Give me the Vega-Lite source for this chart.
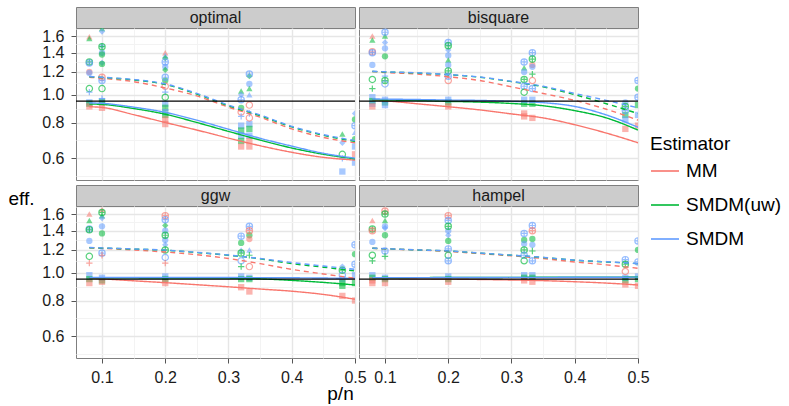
{
"$schema": "https://vega.github.io/schema/vega-lite/v6.json",
"background": "white",
"padding": {"left": 7, "top": 6, "right": 5, "bottom": 2},
"config": {
  "font": "Liberation Sans",
  "view": {"stroke": "#7f7f7f", "strokeWidth": 1},
  "axis": {"gridColor": "#e6e6e6", "gridWidth": 1.4, "labelFontSize": 16, "labelColor": "#1a1a1a", "tickColor": "#555555", "tickSize": 5, "tickWidth": 1, "domain": false, "titleFontSize": 19, "titleFontWeight": "normal", "titleColor": "#000000", "labelFlush": false, "labelOverlap": false},
  "axisX": {"labelPadding": 6},
  "axisY": {"labelPadding": 7},
  "legend": {"padding": 0, "titleFontSize": 19, "titleFontWeight": "normal", "titleColor": "#000000", "labelFontSize": 19, "labelColor": "#000000", "symbolType": "stroke", "symbolSize": 784, "symbolStrokeWidth": 1.6, "labelOffset": 6, "rowPadding": 9, "titlePadding": 2, "symbolOpacity": 1}
},
"datasets": {
"pts": [
{"f":"optimal","x":0.08,"y":1.59,"e":"MM","s":"triangle"},
{"f":"optimal","x":0.08,"y":1.57,"e":"SMDM(uw)","s":"triangle"},
{"f":"optimal","x":0.08,"y":1.3,"e":"SMDM(uw)","s":"cplus"},
{"f":"optimal","x":0.08,"y":1.29,"e":"SMDM","s":"cplus"},
{"f":"optimal","x":0.08,"y":1.2,"e":"MM","s":"circle"},
{"f":"optimal","x":0.08,"y":1.19,"e":"SMDM","s":"circle"},
{"f":"optimal","x":0.08,"y":1.05,"e":"SMDM(uw)","s":"ocircle"},
{"f":"optimal","x":0.08,"y":1.02,"e":"SMDM","s":"plus"},
{"f":"optimal","x":0.08,"y":0.94,"e":"SMDM","s":"square"},
{"f":"optimal","x":0.08,"y":0.93,"e":"SMDM(uw)","s":"square"},
{"f":"optimal","x":0.08,"y":0.91,"e":"MM","s":"square"},
{"f":"optimal","x":0.1,"y":1.7,"e":"SMDM(uw)","s":"triangle"},
{"f":"optimal","x":0.1,"y":1.66,"e":"SMDM","s":"diamond"},
{"f":"optimal","x":0.1,"y":1.48,"e":"SMDM","s":"diamond"},
{"f":"optimal","x":0.1,"y":1.47,"e":"SMDM(uw)","s":"cplus"},
{"f":"optimal","x":0.1,"y":1.4,"e":"SMDM","s":"circle"},
{"f":"optimal","x":0.1,"y":1.38,"e":"SMDM(uw)","s":"circle"},
{"f":"optimal","x":0.1,"y":1.29,"e":"SMDM","s":"diamond"},
{"f":"optimal","x":0.1,"y":1.28,"e":"SMDM(uw)","s":"circle"},
{"f":"optimal","x":0.1,"y":1.15,"e":"MM","s":"cplus"},
{"f":"optimal","x":0.1,"y":1.12,"e":"SMDM","s":"cplus"},
{"f":"optimal","x":0.1,"y":1.05,"e":"SMDM(uw)","s":"ocircle"},
{"f":"optimal","x":0.1,"y":0.97,"e":"SMDM","s":"plus"},
{"f":"optimal","x":0.1,"y":0.95,"e":"SMDM","s":"square"},
{"f":"optimal","x":0.1,"y":0.94,"e":"SMDM(uw)","s":"square"},
{"f":"optimal","x":0.1,"y":0.9,"e":"MM","s":"square"},
{"f":"optimal","x":0.2,"y":1.4,"e":"MM","s":"triangle"},
{"f":"optimal","x":0.2,"y":1.37,"e":"SMDM","s":"triangle"},
{"f":"optimal","x":0.2,"y":1.34,"e":"SMDM(uw)","s":"diamond"},
{"f":"optimal","x":0.2,"y":1.3,"e":"SMDM","s":"cplus"},
{"f":"optimal","x":0.2,"y":1.25,"e":"SMDM","s":"circle"},
{"f":"optimal","x":0.2,"y":1.22,"e":"SMDM(uw)","s":"diamond"},
{"f":"optimal","x":0.2,"y":1.15,"e":"SMDM","s":"cplus"},
{"f":"optimal","x":0.2,"y":1.12,"e":"SMDM(uw)","s":"circle"},
{"f":"optimal","x":0.2,"y":1.07,"e":"MM","s":"ocircle"},
{"f":"optimal","x":0.2,"y":1.02,"e":"SMDM","s":"plus"},
{"f":"optimal","x":0.2,"y":0.98,"e":"SMDM(uw)","s":"ocircle"},
{"f":"optimal","x":0.2,"y":0.93,"e":"SMDM","s":"square"},
{"f":"optimal","x":0.2,"y":0.9,"e":"SMDM(uw)","s":"square"},
{"f":"optimal","x":0.2,"y":0.87,"e":"SMDM","s":"square"},
{"f":"optimal","x":0.2,"y":0.85,"e":"SMDM(uw)","s":"square"},
{"f":"optimal","x":0.2,"y":0.82,"e":"MM","s":"square"},
{"f":"optimal","x":0.2,"y":0.79,"e":"MM","s":"square"},
{"f":"optimal","x":0.32,"y":1.03,"e":"SMDM(uw)","s":"triangle"},
{"f":"optimal","x":0.32,"y":1.0,"e":"SMDM","s":"diamond"},
{"f":"optimal","x":0.32,"y":0.96,"e":"SMDM","s":"cplus"},
{"f":"optimal","x":0.32,"y":0.9,"e":"SMDM(uw)","s":"circle"},
{"f":"optimal","x":0.32,"y":0.87,"e":"MM","s":"ocircle"},
{"f":"optimal","x":0.32,"y":0.84,"e":"SMDM","s":"plus"},
{"f":"optimal","x":0.32,"y":0.78,"e":"SMDM","s":"square"},
{"f":"optimal","x":0.32,"y":0.75,"e":"SMDM(uw)","s":"square"},
{"f":"optimal","x":0.32,"y":0.72,"e":"SMDM","s":"square"},
{"f":"optimal","x":0.32,"y":0.69,"e":"SMDM(uw)","s":"square"},
{"f":"optimal","x":0.32,"y":0.66,"e":"MM","s":"square"},
{"f":"optimal","x":0.333,"y":1.18,"e":"SMDM","s":"cplus"},
{"f":"optimal","x":0.333,"y":1.16,"e":"SMDM(uw)","s":"diamond"},
{"f":"optimal","x":0.333,"y":1.09,"e":"SMDM","s":"circle"},
{"f":"optimal","x":0.333,"y":1.05,"e":"SMDM(uw)","s":"triangle"},
{"f":"optimal","x":0.333,"y":1.0,"e":"SMDM","s":"triangle"},
{"f":"optimal","x":0.333,"y":0.92,"e":"MM","s":"ocircle"},
{"f":"optimal","x":0.333,"y":0.86,"e":"SMDM","s":"plus"},
{"f":"optimal","x":0.333,"y":0.83,"e":"MM","s":"ocircle"},
{"f":"optimal","x":0.333,"y":0.79,"e":"SMDM","s":"square"},
{"f":"optimal","x":0.333,"y":0.76,"e":"SMDM(uw)","s":"square"},
{"f":"optimal","x":0.333,"y":0.72,"e":"SMDM","s":"square"},
{"f":"optimal","x":0.333,"y":0.69,"e":"MM","s":"square"},
{"f":"optimal","x":0.333,"y":0.66,"e":"MM","s":"square"},
{"f":"optimal","x":0.48,"y":0.73,"e":"SMDM(uw)","s":"triangle"},
{"f":"optimal","x":0.48,"y":0.68,"e":"SMDM","s":"diamond"},
{"f":"optimal","x":0.48,"y":0.62,"e":"SMDM(uw)","s":"ocircle"},
{"f":"optimal","x":0.48,"y":0.6,"e":"SMDM","s":"plus"},
{"f":"optimal","x":0.48,"y":0.54,"e":"SMDM","s":"square"},
{"f":"optimal","x":0.5,"y":0.86,"e":"SMDM","s":"diamond"},
{"f":"optimal","x":0.5,"y":0.82,"e":"SMDM(uw)","s":"circle"},
{"f":"optimal","x":0.5,"y":0.78,"e":"SMDM","s":"cplus"},
{"f":"optimal","x":0.5,"y":0.74,"e":"SMDM","s":"triangle"},
{"f":"optimal","x":0.5,"y":0.7,"e":"SMDM(uw)","s":"circle"},
{"f":"optimal","x":0.5,"y":0.66,"e":"SMDM","s":"square"},
{"f":"optimal","x":0.5,"y":0.62,"e":"MM","s":"square"},
{"f":"optimal","x":0.5,"y":0.58,"e":"SMDM","s":"square"},
{"f":"bisquare","x":0.08,"y":1.6,"e":"MM","s":"triangle"},
{"f":"bisquare","x":0.08,"y":1.55,"e":"SMDM(uw)","s":"triangle"},
{"f":"bisquare","x":0.08,"y":1.41,"e":"MM","s":"cplus"},
{"f":"bisquare","x":0.08,"y":1.4,"e":"SMDM","s":"cplus"},
{"f":"bisquare","x":0.08,"y":1.27,"e":"SMDM","s":"circle"},
{"f":"bisquare","x":0.08,"y":1.13,"e":"SMDM(uw)","s":"ocircle"},
{"f":"bisquare","x":0.08,"y":1.05,"e":"SMDM(uw)","s":"plus"},
{"f":"bisquare","x":0.08,"y":0.98,"e":"SMDM","s":"square"},
{"f":"bisquare","x":0.08,"y":0.95,"e":"SMDM(uw)","s":"square"},
{"f":"bisquare","x":0.08,"y":0.93,"e":"SMDM","s":"square"},
{"f":"bisquare","x":0.08,"y":0.91,"e":"MM","s":"square"},
{"f":"bisquare","x":0.1,"y":1.65,"e":"SMDM","s":"cplus"},
{"f":"bisquare","x":0.1,"y":1.6,"e":"SMDM(uw)","s":"triangle"},
{"f":"bisquare","x":0.1,"y":1.52,"e":"SMDM","s":"diamond"},
{"f":"bisquare","x":0.1,"y":1.45,"e":"SMDM","s":"circle"},
{"f":"bisquare","x":0.1,"y":1.36,"e":"SMDM(uw)","s":"circle"},
{"f":"bisquare","x":0.1,"y":1.16,"e":"SMDM","s":"plus"},
{"f":"bisquare","x":0.1,"y":1.12,"e":"SMDM(uw)","s":"cplus"},
{"f":"bisquare","x":0.1,"y":1.09,"e":"SMDM","s":"ocircle"},
{"f":"bisquare","x":0.1,"y":0.96,"e":"SMDM","s":"square"},
{"f":"bisquare","x":0.1,"y":0.94,"e":"SMDM(uw)","s":"square"},
{"f":"bisquare","x":0.1,"y":0.92,"e":"SMDM","s":"square"},
{"f":"bisquare","x":0.2,"y":1.52,"e":"SMDM","s":"cplus"},
{"f":"bisquare","x":0.2,"y":1.48,"e":"SMDM(uw)","s":"cplus"},
{"f":"bisquare","x":0.2,"y":1.43,"e":"SMDM","s":"diamond"},
{"f":"bisquare","x":0.2,"y":1.37,"e":"SMDM","s":"circle"},
{"f":"bisquare","x":0.2,"y":1.32,"e":"SMDM(uw)","s":"triangle"},
{"f":"bisquare","x":0.2,"y":1.27,"e":"SMDM","s":"circle"},
{"f":"bisquare","x":0.2,"y":1.21,"e":"SMDM(uw)","s":"cplus"},
{"f":"bisquare","x":0.2,"y":1.16,"e":"SMDM","s":"cplus"},
{"f":"bisquare","x":0.2,"y":1.12,"e":"MM","s":"ocircle"},
{"f":"bisquare","x":0.2,"y":0.96,"e":"SMDM","s":"square"},
{"f":"bisquare","x":0.2,"y":0.94,"e":"SMDM(uw)","s":"square"},
{"f":"bisquare","x":0.2,"y":0.91,"e":"MM","s":"square"},
{"f":"bisquare","x":0.32,"y":1.3,"e":"SMDM","s":"cplus"},
{"f":"bisquare","x":0.32,"y":1.24,"e":"SMDM(uw)","s":"triangle"},
{"f":"bisquare","x":0.32,"y":1.2,"e":"SMDM","s":"circle"},
{"f":"bisquare","x":0.32,"y":1.13,"e":"SMDM(uw)","s":"cplus"},
{"f":"bisquare","x":0.32,"y":1.07,"e":"SMDM","s":"cplus"},
{"f":"bisquare","x":0.32,"y":1.02,"e":"SMDM(uw)","s":"ocircle"},
{"f":"bisquare","x":0.32,"y":0.96,"e":"SMDM","s":"square"},
{"f":"bisquare","x":0.32,"y":0.93,"e":"SMDM(uw)","s":"square"},
{"f":"bisquare","x":0.32,"y":0.86,"e":"MM","s":"square"},
{"f":"bisquare","x":0.32,"y":0.84,"e":"MM","s":"square"},
{"f":"bisquare","x":0.333,"y":1.4,"e":"SMDM","s":"cplus"},
{"f":"bisquare","x":0.333,"y":1.33,"e":"SMDM(uw)","s":"cplus"},
{"f":"bisquare","x":0.333,"y":1.27,"e":"MM","s":"circle"},
{"f":"bisquare","x":0.333,"y":1.25,"e":"SMDM","s":"circle"},
{"f":"bisquare","x":0.333,"y":1.18,"e":"SMDM(uw)","s":"plus"},
{"f":"bisquare","x":0.333,"y":1.12,"e":"MM","s":"ocircle"},
{"f":"bisquare","x":0.333,"y":1.05,"e":"SMDM","s":"cplus"},
{"f":"bisquare","x":0.333,"y":0.96,"e":"SMDM","s":"square"},
{"f":"bisquare","x":0.333,"y":0.93,"e":"SMDM(uw)","s":"square"},
{"f":"bisquare","x":0.333,"y":0.83,"e":"MM","s":"square"},
{"f":"bisquare","x":0.48,"y":0.94,"e":"SMDM","s":"circle"},
{"f":"bisquare","x":0.48,"y":0.91,"e":"SMDM(uw)","s":"cplus"},
{"f":"bisquare","x":0.48,"y":0.88,"e":"SMDM","s":"cplus"},
{"f":"bisquare","x":0.48,"y":0.85,"e":"SMDM(uw)","s":"square"},
{"f":"bisquare","x":0.48,"y":0.82,"e":"SMDM","s":"square"},
{"f":"bisquare","x":0.48,"y":0.76,"e":"MM","s":"square"},
{"f":"bisquare","x":0.5,"y":1.12,"e":"SMDM","s":"cplus"},
{"f":"bisquare","x":0.5,"y":1.05,"e":"SMDM(uw)","s":"circle"},
{"f":"bisquare","x":0.5,"y":0.98,"e":"SMDM","s":"cplus"},
{"f":"bisquare","x":0.5,"y":0.92,"e":"SMDM(uw)","s":"square"},
{"f":"bisquare","x":0.5,"y":0.85,"e":"SMDM","s":"square"},
{"f":"bisquare","x":0.5,"y":0.78,"e":"MM","s":"square"},
{"f":"ggw","x":0.08,"y":1.6,"e":"MM","s":"triangle"},
{"f":"ggw","x":0.08,"y":1.52,"e":"SMDM(uw)","s":"triangle"},
{"f":"ggw","x":0.08,"y":1.42,"e":"SMDM","s":"cplus"},
{"f":"ggw","x":0.08,"y":1.41,"e":"SMDM(uw)","s":"cplus"},
{"f":"ggw","x":0.08,"y":1.29,"e":"SMDM","s":"circle"},
{"f":"ggw","x":0.08,"y":1.14,"e":"SMDM(uw)","s":"ocircle"},
{"f":"ggw","x":0.08,"y":1.08,"e":"MM","s":"plus"},
{"f":"ggw","x":0.08,"y":0.98,"e":"SMDM","s":"square"},
{"f":"ggw","x":0.08,"y":0.95,"e":"SMDM(uw)","s":"square"},
{"f":"ggw","x":0.08,"y":0.92,"e":"MM","s":"square"},
{"f":"ggw","x":0.1,"y":1.66,"e":"MM","s":"triangle"},
{"f":"ggw","x":0.1,"y":1.62,"e":"SMDM(uw)","s":"cplus"},
{"f":"ggw","x":0.1,"y":1.58,"e":"SMDM(uw)","s":"triangle"},
{"f":"ggw","x":0.1,"y":1.55,"e":"SMDM","s":"diamond"},
{"f":"ggw","x":0.1,"y":1.45,"e":"SMDM","s":"circle"},
{"f":"ggw","x":0.1,"y":1.37,"e":"SMDM(uw)","s":"circle"},
{"f":"ggw","x":0.1,"y":1.17,"e":"SMDM","s":"cplus"},
{"f":"ggw","x":0.1,"y":1.15,"e":"MM","s":"plus"},
{"f":"ggw","x":0.1,"y":0.96,"e":"SMDM","s":"square"},
{"f":"ggw","x":0.1,"y":0.94,"e":"SMDM(uw)","s":"square"},
{"f":"ggw","x":0.1,"y":0.93,"e":"MM","s":"square"},
{"f":"ggw","x":0.2,"y":1.58,"e":"MM","s":"cplus"},
{"f":"ggw","x":0.2,"y":1.53,"e":"SMDM","s":"cplus"},
{"f":"ggw","x":0.2,"y":1.46,"e":"SMDM(uw)","s":"diamond"},
{"f":"ggw","x":0.2,"y":1.4,"e":"SMDM","s":"circle"},
{"f":"ggw","x":0.2,"y":1.35,"e":"SMDM(uw)","s":"cplus"},
{"f":"ggw","x":0.2,"y":1.3,"e":"SMDM","s":"circle"},
{"f":"ggw","x":0.2,"y":1.25,"e":"SMDM","s":"diamond"},
{"f":"ggw","x":0.2,"y":1.2,"e":"SMDM(uw)","s":"cplus"},
{"f":"ggw","x":0.2,"y":1.13,"e":"SMDM","s":"ocircle"},
{"f":"ggw","x":0.2,"y":1.08,"e":"MM","s":"plus"},
{"f":"ggw","x":0.2,"y":0.97,"e":"SMDM","s":"square"},
{"f":"ggw","x":0.2,"y":0.95,"e":"SMDM(uw)","s":"square"},
{"f":"ggw","x":0.2,"y":0.92,"e":"MM","s":"square"},
{"f":"ggw","x":0.32,"y":1.34,"e":"SMDM","s":"cplus"},
{"f":"ggw","x":0.32,"y":1.27,"e":"SMDM(uw)","s":"circle"},
{"f":"ggw","x":0.32,"y":1.2,"e":"SMDM","s":"triangle"},
{"f":"ggw","x":0.32,"y":1.17,"e":"SMDM(uw)","s":"cplus"},
{"f":"ggw","x":0.32,"y":1.1,"e":"SMDM","s":"ocircle"},
{"f":"ggw","x":0.32,"y":1.05,"e":"SMDM(uw)","s":"plus"},
{"f":"ggw","x":0.32,"y":0.97,"e":"SMDM","s":"square"},
{"f":"ggw","x":0.32,"y":0.95,"e":"SMDM(uw)","s":"square"},
{"f":"ggw","x":0.32,"y":0.89,"e":"MM","s":"square"},
{"f":"ggw","x":0.333,"y":1.45,"e":"SMDM","s":"cplus"},
{"f":"ggw","x":0.333,"y":1.4,"e":"MM","s":"cplus"},
{"f":"ggw","x":0.333,"y":1.35,"e":"SMDM(uw)","s":"circle"},
{"f":"ggw","x":0.333,"y":1.31,"e":"MM","s":"circle"},
{"f":"ggw","x":0.333,"y":1.2,"e":"SMDM","s":"triangle"},
{"f":"ggw","x":0.333,"y":1.15,"e":"SMDM(uw)","s":"plus"},
{"f":"ggw","x":0.333,"y":1.05,"e":"MM","s":"ocircle"},
{"f":"ggw","x":0.333,"y":0.96,"e":"SMDM","s":"square"},
{"f":"ggw","x":0.333,"y":0.95,"e":"SMDM(uw)","s":"square"},
{"f":"ggw","x":0.333,"y":0.86,"e":"MM","s":"square"},
{"f":"ggw","x":0.48,"y":1.05,"e":"SMDM","s":"diamond"},
{"f":"ggw","x":0.48,"y":1.02,"e":"SMDM(uw)","s":"cplus"},
{"f":"ggw","x":0.48,"y":0.98,"e":"SMDM","s":"ocircle"},
{"f":"ggw","x":0.48,"y":0.95,"e":"SMDM","s":"square"},
{"f":"ggw","x":0.48,"y":0.92,"e":"SMDM(uw)","s":"square"},
{"f":"ggw","x":0.48,"y":0.9,"e":"SMDM(uw)","s":"square"},
{"f":"ggw","x":0.48,"y":0.83,"e":"MM","s":"square"},
{"f":"ggw","x":0.5,"y":1.25,"e":"SMDM","s":"cplus"},
{"f":"ggw","x":0.5,"y":1.16,"e":"SMDM(uw)","s":"circle"},
{"f":"ggw","x":0.5,"y":1.07,"e":"SMDM","s":"cplus"},
{"f":"ggw","x":0.5,"y":0.98,"e":"SMDM","s":"square"},
{"f":"ggw","x":0.5,"y":0.92,"e":"SMDM(uw)","s":"square"},
{"f":"ggw","x":0.5,"y":0.8,"e":"MM","s":"square"},
{"f":"hampel","x":0.08,"y":1.52,"e":"MM","s":"triangle"},
{"f":"hampel","x":0.08,"y":1.42,"e":"SMDM(uw)","s":"cplus"},
{"f":"hampel","x":0.08,"y":1.4,"e":"MM","s":"cplus"},
{"f":"hampel","x":0.08,"y":1.28,"e":"SMDM","s":"circle"},
{"f":"hampel","x":0.08,"y":1.15,"e":"SMDM(uw)","s":"ocircle"},
{"f":"hampel","x":0.08,"y":1.1,"e":"SMDM(uw)","s":"plus"},
{"f":"hampel","x":0.08,"y":0.98,"e":"SMDM","s":"square"},
{"f":"hampel","x":0.08,"y":0.96,"e":"SMDM(uw)","s":"square"},
{"f":"hampel","x":0.08,"y":0.94,"e":"MM","s":"square"},
{"f":"hampel","x":0.08,"y":0.92,"e":"MM","s":"square"},
{"f":"hampel","x":0.1,"y":1.64,"e":"MM","s":"cplus"},
{"f":"hampel","x":0.1,"y":1.6,"e":"SMDM(uw)","s":"cplus"},
{"f":"hampel","x":0.1,"y":1.52,"e":"SMDM(uw)","s":"triangle"},
{"f":"hampel","x":0.1,"y":1.45,"e":"SMDM","s":"circle"},
{"f":"hampel","x":0.1,"y":1.43,"e":"SMDM","s":"diamond"},
{"f":"hampel","x":0.1,"y":1.35,"e":"SMDM(uw)","s":"circle"},
{"f":"hampel","x":0.1,"y":1.19,"e":"SMDM","s":"cplus"},
{"f":"hampel","x":0.1,"y":1.14,"e":"SMDM(uw)","s":"plus"},
{"f":"hampel","x":0.1,"y":0.96,"e":"SMDM","s":"square"},
{"f":"hampel","x":0.1,"y":0.95,"e":"SMDM(uw)","s":"square"},
{"f":"hampel","x":0.1,"y":0.92,"e":"MM","s":"square"},
{"f":"hampel","x":0.2,"y":1.58,"e":"MM","s":"cplus"},
{"f":"hampel","x":0.2,"y":1.52,"e":"SMDM","s":"cplus"},
{"f":"hampel","x":0.2,"y":1.45,"e":"SMDM(uw)","s":"cplus"},
{"f":"hampel","x":0.2,"y":1.4,"e":"SMDM","s":"circle"},
{"f":"hampel","x":0.2,"y":1.35,"e":"SMDM","s":"diamond"},
{"f":"hampel","x":0.2,"y":1.29,"e":"SMDM(uw)","s":"circle"},
{"f":"hampel","x":0.2,"y":1.21,"e":"SMDM","s":"cplus"},
{"f":"hampel","x":0.2,"y":1.15,"e":"SMDM(uw)","s":"ocircle"},
{"f":"hampel","x":0.2,"y":1.1,"e":"SMDM","s":"cplus"},
{"f":"hampel","x":0.2,"y":0.97,"e":"SMDM","s":"square"},
{"f":"hampel","x":0.2,"y":0.95,"e":"SMDM(uw)","s":"square"},
{"f":"hampel","x":0.2,"y":0.93,"e":"MM","s":"square"},
{"f":"hampel","x":0.32,"y":1.37,"e":"SMDM","s":"cplus"},
{"f":"hampel","x":0.32,"y":1.3,"e":"SMDM(uw)","s":"circle"},
{"f":"hampel","x":0.32,"y":1.26,"e":"SMDM","s":"circle"},
{"f":"hampel","x":0.32,"y":1.2,"e":"SMDM(uw)","s":"cplus"},
{"f":"hampel","x":0.32,"y":1.15,"e":"SMDM","s":"cplus"},
{"f":"hampel","x":0.32,"y":1.1,"e":"SMDM(uw)","s":"ocircle"},
{"f":"hampel","x":0.32,"y":0.98,"e":"SMDM","s":"square"},
{"f":"hampel","x":0.32,"y":0.96,"e":"SMDM(uw)","s":"square"},
{"f":"hampel","x":0.32,"y":0.94,"e":"MM","s":"square"},
{"f":"hampel","x":0.333,"y":1.46,"e":"SMDM","s":"cplus"},
{"f":"hampel","x":0.333,"y":1.4,"e":"MM","s":"cplus"},
{"f":"hampel","x":0.333,"y":1.31,"e":"SMDM(uw)","s":"circle"},
{"f":"hampel","x":0.333,"y":1.25,"e":"SMDM","s":"circle"},
{"f":"hampel","x":0.333,"y":1.19,"e":"SMDM(uw)","s":"plus"},
{"f":"hampel","x":0.333,"y":1.1,"e":"SMDM","s":"cplus"},
{"f":"hampel","x":0.333,"y":0.98,"e":"SMDM","s":"square"},
{"f":"hampel","x":0.333,"y":0.96,"e":"SMDM(uw)","s":"square"},
{"f":"hampel","x":0.333,"y":0.93,"e":"MM","s":"square"},
{"f":"hampel","x":0.48,"y":1.11,"e":"SMDM","s":"cplus"},
{"f":"hampel","x":0.48,"y":1.07,"e":"SMDM(uw)","s":"cplus"},
{"f":"hampel","x":0.48,"y":1.01,"e":"MM","s":"ocircle"},
{"f":"hampel","x":0.48,"y":0.96,"e":"SMDM","s":"square"},
{"f":"hampel","x":0.48,"y":0.94,"e":"SMDM(uw)","s":"square"},
{"f":"hampel","x":0.48,"y":0.91,"e":"MM","s":"square"},
{"f":"hampel","x":0.5,"y":1.29,"e":"SMDM","s":"cplus"},
{"f":"hampel","x":0.5,"y":1.2,"e":"SMDM(uw)","s":"circle"},
{"f":"hampel","x":0.5,"y":1.09,"e":"SMDM","s":"cplus"},
{"f":"hampel","x":0.5,"y":0.97,"e":"SMDM","s":"square"},
{"f":"hampel","x":0.5,"y":0.95,"e":"SMDM(uw)","s":"square"},
{"f":"hampel","x":0.5,"y":0.9,"e":"MM","s":"square"}
],
"crv": [
{"f":"optimal","e":"MM","t":"solid","x":0.08,"y":0.908},{"f":"optimal","e":"MM","t":"solid","x":0.1,"y":0.903},{"f":"optimal","e":"MM","t":"solid","x":0.15,"y":0.852},{"f":"optimal","e":"MM","t":"solid","x":0.2,"y":0.8},{"f":"optimal","e":"MM","t":"solid","x":0.25,"y":0.753},{"f":"optimal","e":"MM","t":"solid","x":0.3,"y":0.706},{"f":"optimal","e":"MM","t":"solid","x":0.35,"y":0.664},{"f":"optimal","e":"MM","t":"solid","x":0.4,"y":0.63},{"f":"optimal","e":"MM","t":"solid","x":0.45,"y":0.605},{"f":"optimal","e":"MM","t":"solid","x":0.5,"y":0.592},
{"f":"optimal","e":"SMDM(uw)","t":"solid","x":0.08,"y":0.928},{"f":"optimal","e":"SMDM(uw)","t":"solid","x":0.1,"y":0.925},{"f":"optimal","e":"SMDM(uw)","t":"solid","x":0.15,"y":0.895},{"f":"optimal","e":"SMDM(uw)","t":"solid","x":0.2,"y":0.855},{"f":"optimal","e":"SMDM(uw)","t":"solid","x":0.25,"y":0.8},{"f":"optimal","e":"SMDM(uw)","t":"solid","x":0.3,"y":0.745},{"f":"optimal","e":"SMDM(uw)","t":"solid","x":0.35,"y":0.695},{"f":"optimal","e":"SMDM(uw)","t":"solid","x":0.4,"y":0.652},{"f":"optimal","e":"SMDM(uw)","t":"solid","x":0.45,"y":0.62},{"f":"optimal","e":"SMDM(uw)","t":"solid","x":0.5,"y":0.598},
{"f":"optimal","e":"SMDM","t":"solid","x":0.08,"y":0.936},{"f":"optimal","e":"SMDM","t":"solid","x":0.1,"y":0.933},{"f":"optimal","e":"SMDM","t":"solid","x":0.15,"y":0.905},{"f":"optimal","e":"SMDM","t":"solid","x":0.2,"y":0.868},{"f":"optimal","e":"SMDM","t":"solid","x":0.25,"y":0.815},{"f":"optimal","e":"SMDM","t":"solid","x":0.3,"y":0.758},{"f":"optimal","e":"SMDM","t":"solid","x":0.35,"y":0.705},{"f":"optimal","e":"SMDM","t":"solid","x":0.4,"y":0.662},{"f":"optimal","e":"SMDM","t":"solid","x":0.45,"y":0.625},{"f":"optimal","e":"SMDM","t":"solid","x":0.5,"y":0.601},
{"f":"optimal","e":"MM","t":"dashed","x":0.08,"y":1.15},{"f":"optimal","e":"MM","t":"dashed","x":0.1,"y":1.14},{"f":"optimal","e":"MM","t":"dashed","x":0.15,"y":1.11},{"f":"optimal","e":"MM","t":"dashed","x":0.2,"y":1.055},{"f":"optimal","e":"MM","t":"dashed","x":0.25,"y":0.99},{"f":"optimal","e":"MM","t":"dashed","x":0.3,"y":0.905},{"f":"optimal","e":"MM","t":"dashed","x":0.35,"y":0.835},{"f":"optimal","e":"MM","t":"dashed","x":0.4,"y":0.76},{"f":"optimal","e":"MM","t":"dashed","x":0.45,"y":0.71},{"f":"optimal","e":"MM","t":"dashed","x":0.5,"y":0.68},
{"f":"optimal","e":"SMDM(uw)","t":"dashed","x":0.08,"y":1.155},{"f":"optimal","e":"SMDM(uw)","t":"dashed","x":0.1,"y":1.148},{"f":"optimal","e":"SMDM(uw)","t":"dashed","x":0.15,"y":1.125},{"f":"optimal","e":"SMDM(uw)","t":"dashed","x":0.2,"y":1.085},{"f":"optimal","e":"SMDM(uw)","t":"dashed","x":0.25,"y":1.005},{"f":"optimal","e":"SMDM(uw)","t":"dashed","x":0.3,"y":0.915},{"f":"optimal","e":"SMDM(uw)","t":"dashed","x":0.35,"y":0.845},{"f":"optimal","e":"SMDM(uw)","t":"dashed","x":0.4,"y":0.772},{"f":"optimal","e":"SMDM(uw)","t":"dashed","x":0.45,"y":0.722},{"f":"optimal","e":"SMDM(uw)","t":"dashed","x":0.5,"y":0.688},
{"f":"optimal","e":"SMDM","t":"dashed","x":0.08,"y":1.157},{"f":"optimal","e":"SMDM","t":"dashed","x":0.1,"y":1.15},{"f":"optimal","e":"SMDM","t":"dashed","x":0.15,"y":1.13},{"f":"optimal","e":"SMDM","t":"dashed","x":0.2,"y":1.09},{"f":"optimal","e":"SMDM","t":"dashed","x":0.25,"y":1.01},{"f":"optimal","e":"SMDM","t":"dashed","x":0.3,"y":0.92},{"f":"optimal","e":"SMDM","t":"dashed","x":0.35,"y":0.85},{"f":"optimal","e":"SMDM","t":"dashed","x":0.4,"y":0.776},{"f":"optimal","e":"SMDM","t":"dashed","x":0.45,"y":0.726},{"f":"optimal","e":"SMDM","t":"dashed","x":0.5,"y":0.692},
{"f":"bisquare","e":"MM","t":"solid","x":0.08,"y":0.958},{"f":"bisquare","e":"MM","t":"solid","x":0.1,"y":0.952},{"f":"bisquare","e":"MM","t":"solid","x":0.15,"y":0.93},{"f":"bisquare","e":"MM","t":"solid","x":0.2,"y":0.908},{"f":"bisquare","e":"MM","t":"solid","x":0.25,"y":0.885},{"f":"bisquare","e":"MM","t":"solid","x":0.3,"y":0.857},{"f":"bisquare","e":"MM","t":"solid","x":0.35,"y":0.83},{"f":"bisquare","e":"MM","t":"solid","x":0.4,"y":0.786},{"f":"bisquare","e":"MM","t":"solid","x":0.45,"y":0.735},{"f":"bisquare","e":"MM","t":"solid","x":0.5,"y":0.68},
{"f":"bisquare","e":"SMDM(uw)","t":"solid","x":0.08,"y":0.96},{"f":"bisquare","e":"SMDM(uw)","t":"solid","x":0.1,"y":0.958},{"f":"bisquare","e":"SMDM(uw)","t":"solid","x":0.15,"y":0.955},{"f":"bisquare","e":"SMDM(uw)","t":"solid","x":0.2,"y":0.948},{"f":"bisquare","e":"SMDM(uw)","t":"solid","x":0.25,"y":0.942},{"f":"bisquare","e":"SMDM(uw)","t":"solid","x":0.3,"y":0.932},{"f":"bisquare","e":"SMDM(uw)","t":"solid","x":0.35,"y":0.915},{"f":"bisquare","e":"SMDM(uw)","t":"solid","x":0.4,"y":0.88},{"f":"bisquare","e":"SMDM(uw)","t":"solid","x":0.45,"y":0.83},{"f":"bisquare","e":"SMDM(uw)","t":"solid","x":0.5,"y":0.753},
{"f":"bisquare","e":"SMDM","t":"solid","x":0.08,"y":0.966},{"f":"bisquare","e":"SMDM","t":"solid","x":0.1,"y":0.965},{"f":"bisquare","e":"SMDM","t":"solid","x":0.15,"y":0.962},{"f":"bisquare","e":"SMDM","t":"solid","x":0.2,"y":0.958},{"f":"bisquare","e":"SMDM","t":"solid","x":0.25,"y":0.955},{"f":"bisquare","e":"SMDM","t":"solid","x":0.3,"y":0.948},{"f":"bisquare","e":"SMDM","t":"solid","x":0.35,"y":0.938},{"f":"bisquare","e":"SMDM","t":"solid","x":0.4,"y":0.91},{"f":"bisquare","e":"SMDM","t":"solid","x":0.45,"y":0.85},{"f":"bisquare","e":"SMDM","t":"solid","x":0.5,"y":0.77},
{"f":"bisquare","e":"MM","t":"dashed","x":0.08,"y":1.205},{"f":"bisquare","e":"MM","t":"dashed","x":0.1,"y":1.195},{"f":"bisquare","e":"MM","t":"dashed","x":0.15,"y":1.18},{"f":"bisquare","e":"MM","t":"dashed","x":0.2,"y":1.155},{"f":"bisquare","e":"MM","t":"dashed","x":0.25,"y":1.12},{"f":"bisquare","e":"MM","t":"dashed","x":0.3,"y":1.065},{"f":"bisquare","e":"MM","t":"dashed","x":0.35,"y":1.01},{"f":"bisquare","e":"MM","t":"dashed","x":0.4,"y":0.955},{"f":"bisquare","e":"MM","t":"dashed","x":0.45,"y":0.89},{"f":"bisquare","e":"MM","t":"dashed","x":0.5,"y":0.815},
{"f":"bisquare","e":"SMDM(uw)","t":"dashed","x":0.08,"y":1.205},{"f":"bisquare","e":"SMDM(uw)","t":"dashed","x":0.1,"y":1.2},{"f":"bisquare","e":"SMDM(uw)","t":"dashed","x":0.15,"y":1.19},{"f":"bisquare","e":"SMDM(uw)","t":"dashed","x":0.2,"y":1.174},{"f":"bisquare","e":"SMDM(uw)","t":"dashed","x":0.25,"y":1.15},{"f":"bisquare","e":"SMDM(uw)","t":"dashed","x":0.3,"y":1.11},{"f":"bisquare","e":"SMDM(uw)","t":"dashed","x":0.35,"y":1.065},{"f":"bisquare","e":"SMDM(uw)","t":"dashed","x":0.4,"y":1.0},{"f":"bisquare","e":"SMDM(uw)","t":"dashed","x":0.45,"y":0.93},{"f":"bisquare","e":"SMDM(uw)","t":"dashed","x":0.5,"y":0.86},
{"f":"bisquare","e":"SMDM","t":"dashed","x":0.08,"y":1.207},{"f":"bisquare","e":"SMDM","t":"dashed","x":0.1,"y":1.202},{"f":"bisquare","e":"SMDM","t":"dashed","x":0.15,"y":1.192},{"f":"bisquare","e":"SMDM","t":"dashed","x":0.2,"y":1.176},{"f":"bisquare","e":"SMDM","t":"dashed","x":0.25,"y":1.152},{"f":"bisquare","e":"SMDM","t":"dashed","x":0.3,"y":1.113},{"f":"bisquare","e":"SMDM","t":"dashed","x":0.35,"y":1.07},{"f":"bisquare","e":"SMDM","t":"dashed","x":0.4,"y":1.01},{"f":"bisquare","e":"SMDM","t":"dashed","x":0.45,"y":0.955},{"f":"bisquare","e":"SMDM","t":"dashed","x":0.5,"y":0.9},
{"f":"ggw","e":"MM","t":"solid","x":0.08,"y":0.958},{"f":"ggw","e":"MM","t":"solid","x":0.1,"y":0.952},{"f":"ggw","e":"MM","t":"solid","x":0.15,"y":0.937},{"f":"ggw","e":"MM","t":"solid","x":0.2,"y":0.923},{"f":"ggw","e":"MM","t":"solid","x":0.25,"y":0.908},{"f":"ggw","e":"MM","t":"solid","x":0.3,"y":0.893},{"f":"ggw","e":"MM","t":"solid","x":0.35,"y":0.877},{"f":"ggw","e":"MM","t":"solid","x":0.4,"y":0.862},{"f":"ggw","e":"MM","t":"solid","x":0.45,"y":0.84},{"f":"ggw","e":"MM","t":"solid","x":0.5,"y":0.808},
{"f":"ggw","e":"SMDM(uw)","t":"solid","x":0.08,"y":0.96},{"f":"ggw","e":"SMDM(uw)","t":"solid","x":0.1,"y":0.96},{"f":"ggw","e":"SMDM(uw)","t":"solid","x":0.15,"y":0.959},{"f":"ggw","e":"SMDM(uw)","t":"solid","x":0.2,"y":0.958},{"f":"ggw","e":"SMDM(uw)","t":"solid","x":0.25,"y":0.958},{"f":"ggw","e":"SMDM(uw)","t":"solid","x":0.3,"y":0.957},{"f":"ggw","e":"SMDM(uw)","t":"solid","x":0.35,"y":0.952},{"f":"ggw","e":"SMDM(uw)","t":"solid","x":0.4,"y":0.94},{"f":"ggw","e":"SMDM(uw)","t":"solid","x":0.45,"y":0.925},{"f":"ggw","e":"SMDM(uw)","t":"solid","x":0.5,"y":0.906},
{"f":"ggw","e":"SMDM","t":"solid","x":0.08,"y":0.962},{"f":"ggw","e":"SMDM","t":"solid","x":0.1,"y":0.962},{"f":"ggw","e":"SMDM","t":"solid","x":0.15,"y":0.962},{"f":"ggw","e":"SMDM","t":"solid","x":0.2,"y":0.962},{"f":"ggw","e":"SMDM","t":"solid","x":0.25,"y":0.962},{"f":"ggw","e":"SMDM","t":"solid","x":0.3,"y":0.962},{"f":"ggw","e":"SMDM","t":"solid","x":0.35,"y":0.961},{"f":"ggw","e":"SMDM","t":"solid","x":0.4,"y":0.96},{"f":"ggw","e":"SMDM","t":"solid","x":0.45,"y":0.958},{"f":"ggw","e":"SMDM","t":"solid","x":0.5,"y":0.955},
{"f":"ggw","e":"MM","t":"dashed","x":0.08,"y":1.222},{"f":"ggw","e":"MM","t":"dashed","x":0.1,"y":1.215},{"f":"ggw","e":"MM","t":"dashed","x":0.15,"y":1.2},{"f":"ggw","e":"MM","t":"dashed","x":0.2,"y":1.18},{"f":"ggw","e":"MM","t":"dashed","x":0.25,"y":1.155},{"f":"ggw","e":"MM","t":"dashed","x":0.3,"y":1.12},{"f":"ggw","e":"MM","t":"dashed","x":0.35,"y":1.075},{"f":"ggw","e":"MM","t":"dashed","x":0.4,"y":1.027},{"f":"ggw","e":"MM","t":"dashed","x":0.45,"y":0.99},{"f":"ggw","e":"MM","t":"dashed","x":0.5,"y":0.956},
{"f":"ggw","e":"SMDM(uw)","t":"dashed","x":0.08,"y":1.222},{"f":"ggw","e":"SMDM(uw)","t":"dashed","x":0.1,"y":1.218},{"f":"ggw","e":"SMDM(uw)","t":"dashed","x":0.15,"y":1.208},{"f":"ggw","e":"SMDM(uw)","t":"dashed","x":0.2,"y":1.197},{"f":"ggw","e":"SMDM(uw)","t":"dashed","x":0.25,"y":1.175},{"f":"ggw","e":"SMDM(uw)","t":"dashed","x":0.3,"y":1.15},{"f":"ggw","e":"SMDM(uw)","t":"dashed","x":0.35,"y":1.118},{"f":"ggw","e":"SMDM(uw)","t":"dashed","x":0.4,"y":1.075},{"f":"ggw","e":"SMDM(uw)","t":"dashed","x":0.45,"y":1.045},{"f":"ggw","e":"SMDM(uw)","t":"dashed","x":0.5,"y":1.014},
{"f":"ggw","e":"SMDM","t":"dashed","x":0.08,"y":1.224},{"f":"ggw","e":"SMDM","t":"dashed","x":0.1,"y":1.22},{"f":"ggw","e":"SMDM","t":"dashed","x":0.15,"y":1.21},{"f":"ggw","e":"SMDM","t":"dashed","x":0.2,"y":1.199},{"f":"ggw","e":"SMDM","t":"dashed","x":0.25,"y":1.177},{"f":"ggw","e":"SMDM","t":"dashed","x":0.3,"y":1.152},{"f":"ggw","e":"SMDM","t":"dashed","x":0.35,"y":1.12},{"f":"ggw","e":"SMDM","t":"dashed","x":0.4,"y":1.085},{"f":"ggw","e":"SMDM","t":"dashed","x":0.45,"y":1.055},{"f":"ggw","e":"SMDM","t":"dashed","x":0.5,"y":1.027},
{"f":"hampel","e":"MM","t":"solid","x":0.08,"y":0.955},{"f":"hampel","e":"MM","t":"solid","x":0.1,"y":0.954},{"f":"hampel","e":"MM","t":"solid","x":0.15,"y":0.952},{"f":"hampel","e":"MM","t":"solid","x":0.2,"y":0.95},{"f":"hampel","e":"MM","t":"solid","x":0.25,"y":0.947},{"f":"hampel","e":"MM","t":"solid","x":0.3,"y":0.943},{"f":"hampel","e":"MM","t":"solid","x":0.35,"y":0.938},{"f":"hampel","e":"MM","t":"solid","x":0.4,"y":0.93},{"f":"hampel","e":"MM","t":"solid","x":0.45,"y":0.92},{"f":"hampel","e":"MM","t":"solid","x":0.5,"y":0.906},
{"f":"hampel","e":"SMDM(uw)","t":"solid","x":0.08,"y":0.96},{"f":"hampel","e":"SMDM(uw)","t":"solid","x":0.1,"y":0.96},{"f":"hampel","e":"SMDM(uw)","t":"solid","x":0.15,"y":0.961},{"f":"hampel","e":"SMDM(uw)","t":"solid","x":0.2,"y":0.962},{"f":"hampel","e":"SMDM(uw)","t":"solid","x":0.25,"y":0.962},{"f":"hampel","e":"SMDM(uw)","t":"solid","x":0.3,"y":0.963},{"f":"hampel","e":"SMDM(uw)","t":"solid","x":0.35,"y":0.964},{"f":"hampel","e":"SMDM(uw)","t":"solid","x":0.4,"y":0.965},{"f":"hampel","e":"SMDM(uw)","t":"solid","x":0.45,"y":0.965},{"f":"hampel","e":"SMDM(uw)","t":"solid","x":0.5,"y":0.966},
{"f":"hampel","e":"SMDM","t":"solid","x":0.08,"y":0.961},{"f":"hampel","e":"SMDM","t":"solid","x":0.1,"y":0.961},{"f":"hampel","e":"SMDM","t":"solid","x":0.15,"y":0.961},{"f":"hampel","e":"SMDM","t":"solid","x":0.2,"y":0.962},{"f":"hampel","e":"SMDM","t":"solid","x":0.25,"y":0.962},{"f":"hampel","e":"SMDM","t":"solid","x":0.3,"y":0.963},{"f":"hampel","e":"SMDM","t":"solid","x":0.35,"y":0.963},{"f":"hampel","e":"SMDM","t":"solid","x":0.4,"y":0.964},{"f":"hampel","e":"SMDM","t":"solid","x":0.45,"y":0.964},{"f":"hampel","e":"SMDM","t":"solid","x":0.5,"y":0.965},
{"f":"hampel","e":"MM","t":"dashed","x":0.08,"y":1.216},{"f":"hampel","e":"MM","t":"dashed","x":0.1,"y":1.21},{"f":"hampel","e":"MM","t":"dashed","x":0.15,"y":1.2},{"f":"hampel","e":"MM","t":"dashed","x":0.2,"y":1.185},{"f":"hampel","e":"MM","t":"dashed","x":0.25,"y":1.165},{"f":"hampel","e":"MM","t":"dashed","x":0.3,"y":1.145},{"f":"hampel","e":"MM","t":"dashed","x":0.35,"y":1.12},{"f":"hampel","e":"MM","t":"dashed","x":0.4,"y":1.09},{"f":"hampel","e":"MM","t":"dashed","x":0.45,"y":1.065},{"f":"hampel","e":"MM","t":"dashed","x":0.5,"y":1.036},
{"f":"hampel","e":"SMDM(uw)","t":"dashed","x":0.08,"y":1.216},{"f":"hampel","e":"SMDM(uw)","t":"dashed","x":0.1,"y":1.212},{"f":"hampel","e":"SMDM(uw)","t":"dashed","x":0.15,"y":1.2},{"f":"hampel","e":"SMDM(uw)","t":"dashed","x":0.2,"y":1.19},{"f":"hampel","e":"SMDM(uw)","t":"dashed","x":0.25,"y":1.17},{"f":"hampel","e":"SMDM(uw)","t":"dashed","x":0.3,"y":1.15},{"f":"hampel","e":"SMDM(uw)","t":"dashed","x":0.35,"y":1.13},{"f":"hampel","e":"SMDM(uw)","t":"dashed","x":0.4,"y":1.105},{"f":"hampel","e":"SMDM(uw)","t":"dashed","x":0.45,"y":1.09},{"f":"hampel","e":"SMDM(uw)","t":"dashed","x":0.5,"y":1.075},
{"f":"hampel","e":"SMDM","t":"dashed","x":0.08,"y":1.218},{"f":"hampel","e":"SMDM","t":"dashed","x":0.1,"y":1.213},{"f":"hampel","e":"SMDM","t":"dashed","x":0.15,"y":1.201},{"f":"hampel","e":"SMDM","t":"dashed","x":0.2,"y":1.191},{"f":"hampel","e":"SMDM","t":"dashed","x":0.25,"y":1.171},{"f":"hampel","e":"SMDM","t":"dashed","x":0.3,"y":1.151},{"f":"hampel","e":"SMDM","t":"dashed","x":0.35,"y":1.131},{"f":"hampel","e":"SMDM","t":"dashed","x":0.4,"y":1.106},{"f":"hampel","e":"SMDM","t":"dashed","x":0.45,"y":1.091},{"f":"hampel","e":"SMDM","t":"dashed","x":0.5,"y":1.076}
]
},
"columns": 2,
"spacing": {"row": 0, "column": 4},
"bounds": "flush",
"concat": [
    {"width": 279, "height": 21, "data": {"values": [{"lab": "optimal"}]}, "view": {"fill": "#cccccc", "stroke": "#7f7f7f"},
     "mark": {"type": "text", "fontSize": 16, "color": "#1a1a1a", "baseline": "middle", "align": "center"},
     "encoding": {"text": {"field": "lab"}}},
    {"width": 279, "height": 21, "data": {"values": [{"lab": "bisquare"}]}, "view": {"fill": "#cccccc", "stroke": "#7f7f7f"},
     "mark": {"type": "text", "fontSize": 16, "color": "#1a1a1a", "baseline": "middle", "align": "center"},
     "encoding": {"text": {"field": "lab"}}},
    {"width": 279, "height": 152, "view": {"fill": "white"},
     "layer": [
      {"data": {"name": "pts"}, "transform": [{"filter": "datum.f=='optimal' && (datum.s=='circle'||datum.s=='square'||datum.s=='triangle'||datum.s=='diamond')"}],
       "mark": {"type": "point", "filled": true, "opacity": 0.55, "size": 40, "clip": true},
       "encoding": {
        "x": {"field": "x", "type": "quantitative", "scale": {"domain": [0.0589, 0.5], "nice": false, "zero": false}, "axis": {"values": [0.1,0.2,0.3,0.4,0.5], "grid": true, "labels": false, "ticks": false, "title": null}},
        "y": {"field": "y", "type": "quantitative", "scale": {"type": "log", "domain": [0.5045, 1.707], "nice": false}, "axis": {"values": [0.6,0.8,1,1.2,1.4,1.6], "format": ".1f", "grid": true, "title": null}},
        "fill": {"field": "e", "type": "nominal", "scale": {"domain": ["SMDM","SMDM(uw)","MM"], "range": ["#619CFF","#00BA38","#F8766D"]}, "legend": null},
        "shape": {"field": "s", "type": "nominal", "scale": {"domain": ["circle","square","triangle","diamond","ocircle","plus","cplus"], "range": ["circle","square","triangle-up","diamond","circle","M-1,0L1,0M0,-1L0,1","M-1,0A1,1,0,1,1,1,0A1,1,0,1,1,-1,0M-1,0L1,0M0,-1L0,1"]}, "legend": null}
       }},
      {"data": {"name": "pts"}, "transform": [{"filter": "datum.f=='optimal' && (datum.s=='ocircle'||datum.s=='plus'||datum.s=='cplus')"}],
       "mark": {"type": "point", "filled": false, "opacity": 0.65, "strokeWidth": 1.2, "size": 40, "clip": true},
       "encoding": {
        "x": {"field": "x", "type": "quantitative", "axis": null},
        "y": {"field": "y", "type": "quantitative", "axis": null},
        "stroke": {"field": "e", "type": "nominal", "scale": {"domain": ["SMDM(uw)","MM","SMDM"], "range": ["#00BA38","#F8766D","#619CFF"]}, "legend": null},
        "shape": {"field": "s", "type": "nominal", "legend": null}
       }},
      {"data": {"name": "crv"}, "transform": [{"filter": "datum.f=='optimal'"}],
       "mark": {"type": "line", "strokeWidth": 1.4, "interpolate": "monotone", "clip": true},
       "encoding": {
        "x": {"field": "x", "type": "quantitative", "axis": {"orient": "top", "values": [0.15,0.25,0.35,0.45], "grid": true, "gridColor": "#f3f3f3", "gridWidth": 1, "labels": false, "ticks": false, "title": null}},
        "y": {"field": "y", "type": "quantitative", "axis": {"orient": "right", "values": [0.52,0.693,0.894,1.095,1.296,1.497,1.69], "grid": true, "gridColor": "#f3f3f3", "gridWidth": 1, "labels": false, "ticks": false, "title": null}},
        "color": {"field": "e", "type": "nominal", "scale": {"domain": ["MM","SMDM(uw)","SMDM"], "range": ["#F8766D","#00BA38","#619CFF"]}, "legend": {"title": "Estimator", "orient": "none", "legendX": 574, "legendY": 128}},
        "strokeDash": {"field": "t", "type": "nominal", "scale": {"domain": ["solid","dashed"], "range": [[1,0],[5,4]]}, "legend": null}
       }},
      {"data": {"values": [{"ref": 0.95}]},
       "mark": {"type": "rule", "color": "#000000", "strokeWidth": 1.2},
       "encoding": {"y": {"field": "ref", "type": "quantitative", "axis": null}}}
     ],
     "resolve": {"axis": {"x": "independent", "y": "independent"}}},
    {"width": 279, "height": 152, "view": {"fill": "white"},
     "layer": [
      {"data": {"name": "pts"}, "transform": [{"filter": "datum.f=='bisquare' && (datum.s=='circle'||datum.s=='square'||datum.s=='triangle'||datum.s=='diamond')"}],
       "mark": {"type": "point", "filled": true, "opacity": 0.55, "size": 40, "clip": true},
       "encoding": {
        "x": {"field": "x", "type": "quantitative", "scale": {"domain": [0.0589, 0.5], "nice": false, "zero": false}, "axis": {"values": [0.1,0.2,0.3,0.4,0.5], "grid": true, "labels": false, "ticks": false, "title": null}},
        "y": {"field": "y", "type": "quantitative", "scale": {"type": "log", "domain": [0.5045, 1.707], "nice": false}, "axis": {"values": [0.6,0.8,1,1.2,1.4,1.6], "grid": true, "labels": false, "ticks": false, "title": null}},
        "fill": {"field": "e", "type": "nominal", "legend": null},
        "shape": {"field": "s", "type": "nominal", "legend": null}
       }},
      {"data": {"name": "pts"}, "transform": [{"filter": "datum.f=='bisquare' && (datum.s=='ocircle'||datum.s=='plus'||datum.s=='cplus')"}],
       "mark": {"type": "point", "filled": false, "opacity": 0.65, "strokeWidth": 1.2, "size": 40, "clip": true},
       "encoding": {
        "x": {"field": "x", "type": "quantitative", "axis": null},
        "y": {"field": "y", "type": "quantitative", "axis": null},
        "stroke": {"field": "e", "type": "nominal", "legend": null},
        "shape": {"field": "s", "type": "nominal", "legend": null}
       }},
      {"data": {"name": "crv"}, "transform": [{"filter": "datum.f=='bisquare'"}],
       "mark": {"type": "line", "strokeWidth": 1.4, "interpolate": "monotone", "clip": true},
       "encoding": {
        "x": {"field": "x", "type": "quantitative", "axis": {"orient": "top", "values": [0.15,0.25,0.35,0.45], "grid": true, "gridColor": "#f3f3f3", "gridWidth": 1, "labels": false, "ticks": false, "title": null}},
        "y": {"field": "y", "type": "quantitative", "axis": {"orient": "right", "values": [0.52,0.693,0.894,1.095,1.296,1.497,1.69], "grid": true, "gridColor": "#f3f3f3", "gridWidth": 1, "labels": false, "ticks": false, "title": null}},
        "color": {"field": "e", "type": "nominal"},
        "strokeDash": {"field": "t", "type": "nominal", "legend": null}
       }},
      {"data": {"values": [{"ref": 0.95}]},
       "mark": {"type": "rule", "color": "#000000", "strokeWidth": 1.2},
       "encoding": {"y": {"field": "ref", "type": "quantitative", "axis": null}}}
     ],
     "resolve": {"axis": {"x": "independent", "y": "independent"}}},
    {"width": 279, "height": 5, "data": {"values": []}, "mark": "point", "view": {"stroke": null, "fill": null}},
    {"width": 279, "height": 5, "data": {"values": []}, "mark": "point", "view": {"stroke": null, "fill": null}},
    {"width": 279, "height": 21, "data": {"values": [{"lab": "ggw"}]}, "view": {"fill": "#cccccc", "stroke": "#7f7f7f"},
     "mark": {"type": "text", "fontSize": 16, "color": "#1a1a1a", "baseline": "middle", "align": "center"},
     "encoding": {"text": {"field": "lab"}}},
    {"width": 279, "height": 21, "data": {"values": [{"lab": "hampel"}]}, "view": {"fill": "#cccccc", "stroke": "#7f7f7f"},
     "mark": {"type": "text", "fontSize": 16, "color": "#1a1a1a", "baseline": "middle", "align": "center"},
     "encoding": {"text": {"field": "lab"}}},
    {"width": 279, "height": 152, "view": {"fill": "white"},
     "layer": [
      {"data": {"name": "pts"}, "transform": [{"filter": "datum.f=='ggw' && (datum.s=='circle'||datum.s=='square'||datum.s=='triangle'||datum.s=='diamond')"}],
       "mark": {"type": "point", "filled": true, "opacity": 0.55, "size": 40, "clip": true},
       "encoding": {
        "x": {"field": "x", "type": "quantitative", "scale": {"domain": [0.0589, 0.5], "nice": false, "zero": false}, "axis": {"values": [0.1,0.2,0.3,0.4,0.5], "format": ".1f", "grid": true, "title": "p/n", "titleX": 264, "titleY": 41, "titleAlign": "center", "titleBaseline": "alphabetic"}},
        "y": {"field": "y", "type": "quantitative", "scale": {"type": "log", "domain": [0.5045, 1.707], "nice": false}, "axis": {"values": [0.6,0.8,1,1.2,1.4,1.6], "format": ".1f", "grid": true, "title": "eff.", "titleAngle": 0, "titleX": -68, "titleY": -2, "titleAlign": "left", "titleBaseline": "alphabetic"}},
        "fill": {"field": "e", "type": "nominal", "legend": null},
        "shape": {"field": "s", "type": "nominal", "legend": null}
       }},
      {"data": {"name": "pts"}, "transform": [{"filter": "datum.f=='ggw' && (datum.s=='ocircle'||datum.s=='plus'||datum.s=='cplus')"}],
       "mark": {"type": "point", "filled": false, "opacity": 0.65, "strokeWidth": 1.2, "size": 40, "clip": true},
       "encoding": {
        "x": {"field": "x", "type": "quantitative", "axis": null},
        "y": {"field": "y", "type": "quantitative", "axis": null},
        "stroke": {"field": "e", "type": "nominal", "legend": null},
        "shape": {"field": "s", "type": "nominal", "legend": null}
       }},
      {"data": {"name": "crv"}, "transform": [{"filter": "datum.f=='ggw'"}],
       "mark": {"type": "line", "strokeWidth": 1.4, "interpolate": "monotone", "clip": true},
       "encoding": {
        "x": {"field": "x", "type": "quantitative", "axis": {"orient": "top", "values": [0.15,0.25,0.35,0.45], "grid": true, "gridColor": "#f3f3f3", "gridWidth": 1, "labels": false, "ticks": false, "title": null}},
        "y": {"field": "y", "type": "quantitative", "axis": {"orient": "right", "values": [0.52,0.693,0.894,1.095,1.296,1.497,1.69], "grid": true, "gridColor": "#f3f3f3", "gridWidth": 1, "labels": false, "ticks": false, "title": null}},
        "color": {"field": "e", "type": "nominal"},
        "strokeDash": {"field": "t", "type": "nominal", "legend": null}
       }},
      {"data": {"values": [{"ref": 0.95}]},
       "mark": {"type": "rule", "color": "#000000", "strokeWidth": 1.2},
       "encoding": {"y": {"field": "ref", "type": "quantitative", "axis": null}}}
     ],
     "resolve": {"axis": {"x": "independent", "y": "independent"}}},
    {"width": 279, "height": 152, "view": {"fill": "white"},
     "layer": [
      {"data": {"name": "pts"}, "transform": [{"filter": "datum.f=='hampel' && (datum.s=='circle'||datum.s=='square'||datum.s=='triangle'||datum.s=='diamond')"}],
       "mark": {"type": "point", "filled": true, "opacity": 0.55, "size": 40, "clip": true},
       "encoding": {
        "x": {"field": "x", "type": "quantitative", "scale": {"domain": [0.0589, 0.5], "nice": false, "zero": false}, "axis": {"values": [0.1,0.2,0.3,0.4,0.5], "format": ".1f", "grid": true, "title": null}},
        "y": {"field": "y", "type": "quantitative", "scale": {"type": "log", "domain": [0.5045, 1.707], "nice": false}, "axis": {"values": [0.6,0.8,1,1.2,1.4,1.6], "grid": true, "labels": false, "ticks": false, "title": null}},
        "fill": {"field": "e", "type": "nominal", "legend": null},
        "shape": {"field": "s", "type": "nominal", "legend": null}
       }},
      {"data": {"name": "pts"}, "transform": [{"filter": "datum.f=='hampel' && (datum.s=='ocircle'||datum.s=='plus'||datum.s=='cplus')"}],
       "mark": {"type": "point", "filled": false, "opacity": 0.65, "strokeWidth": 1.2, "size": 40, "clip": true},
       "encoding": {
        "x": {"field": "x", "type": "quantitative", "axis": null},
        "y": {"field": "y", "type": "quantitative", "axis": null},
        "stroke": {"field": "e", "type": "nominal", "legend": null},
        "shape": {"field": "s", "type": "nominal", "legend": null}
       }},
      {"data": {"name": "crv"}, "transform": [{"filter": "datum.f=='hampel'"}],
       "mark": {"type": "line", "strokeWidth": 1.4, "interpolate": "monotone", "clip": true},
       "encoding": {
        "x": {"field": "x", "type": "quantitative", "axis": {"orient": "top", "values": [0.15,0.25,0.35,0.45], "grid": true, "gridColor": "#f3f3f3", "gridWidth": 1, "labels": false, "ticks": false, "title": null}},
        "y": {"field": "y", "type": "quantitative", "axis": {"orient": "right", "values": [0.52,0.693,0.894,1.095,1.296,1.497,1.69], "grid": true, "gridColor": "#f3f3f3", "gridWidth": 1, "labels": false, "ticks": false, "title": null}},
        "color": {"field": "e", "type": "nominal"},
        "strokeDash": {"field": "t", "type": "nominal", "legend": null}
       }},
      {"data": {"values": [{"ref": 0.95}]},
       "mark": {"type": "rule", "color": "#000000", "strokeWidth": 1.2},
       "encoding": {"y": {"field": "ref", "type": "quantitative", "axis": null}}}
     ],
     "resolve": {"axis": {"x": "independent", "y": "independent"}}}
]
}
